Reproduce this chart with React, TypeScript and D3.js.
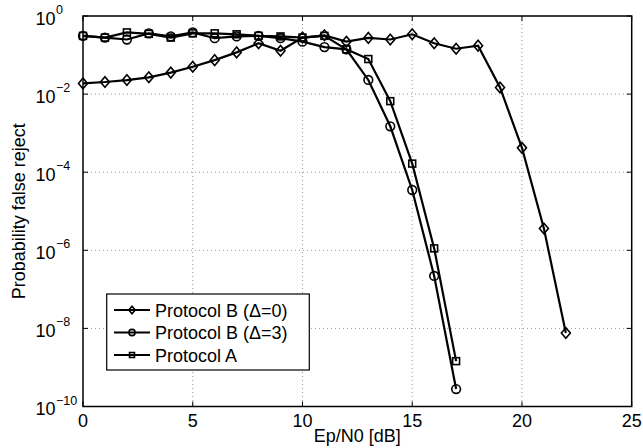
import React from "react";
import * as d3 from "d3";

const xValues = d3.range(0, 23);
const protocolB0 = [1.88e-2, 2.04e-2, 2.29e-2, 2.69e-2, 3.55e-2, 5.0e-2, 7.4e-2, 0.117, 0.2, 0.129, 0.28, 0.32, 0.22, 0.275, 0.25, 0.34, 0.2, 0.145, 0.174, 1.48e-2, 4.2e-4, 3.6e-6, 7.6e-9];
const protocolB3 = [0.31, 0.28, 0.25, 0.36, 0.3, 0.38, 0.27, 0.3, 0.31, 0.27, 0.22, 0.16, 0.14, 2.3e-2, 1.5e-3, 3.5e-5, 2.2e-7, 2.8e-10];
const protocolA = [0.31, 0.28, 0.38, 0.35, 0.28, 0.36, 0.36, 0.34, 0.31, 0.3, 0.28, 0.31, 0.14, 7.9e-2, 6.6e-3, 1.66e-4, 1.12e-6, 1.45e-9];
const xTicks = [0, 5, 10, 15, 20, 25];
const yTickExps = [0, -2, -4, -6, -8, -10];
const legendLabels = ["Protocol B (\u0394=0)", "Protocol B (\u0394=3)", "Protocol A"];

const W = 643, H = 448;
const L = 83, R = 631.7, T = 16, B = 406.5;
const FONT = "'Liberation Sans', Arial, Helvetica, sans-serif";
const FS = 18;

function Marker({ kind, x, y, s }: { kind: string; x: number; y: number; s: number }) {
  if (kind === "diamond") {
    return <path d={`M${x},${y - s}L${x + s * 0.85},${y}L${x},${y + s}L${x - s * 0.85},${y}Z`} fill="none" stroke="#000" strokeWidth={1.6} />;
  }
  if (kind === "circle") {
    return <circle cx={x} cy={y} r={s * 0.82} fill="none" stroke="#000" strokeWidth={1.6} />;
  }
  return <rect x={x - s * 0.65} y={y - s * 0.65} width={s * 1.3} height={s * 1.3} fill="none" stroke="#000" strokeWidth={1.6} />;
}

export default function App() {
  const x = d3.scaleLinear().domain([0, 25]).range([L, R]);
  const y = d3.scaleLog().domain([1e-10, 1]).range([B, T]);
  const line = d3.line<[number, number]>().x((d) => x(d[0])).y((d) => y(d[1]));
  const series = [
    { data: protocolB0, kind: "diamond" },
    { data: protocolB3, kind: "circle" },
    { data: protocolA, kind: "square" },
  ];
  return (
    <svg width={W} height={H} style={{ display: "block", position: "absolute", left: 0, top: 0 }} fontFamily={FONT}>
      <rect x={0} y={0} width={W} height={H} fill="#fff" />
      {xTicks.filter((t) => t > 0 && t < 25).map((t) => (
        <line key={"gx" + t} x1={x(t)} x2={x(t)} y1={T} y2={B} stroke="#999" strokeWidth={1} strokeDasharray="1,3" />
      ))}
      {yTickExps.filter((e) => e < 0 && e > -10).map((e) => (
        <line key={"gy" + e} x1={L} x2={R} y1={y(Math.pow(10, e))} y2={y(Math.pow(10, e))} stroke="#999" strokeWidth={1} strokeDasharray="1,3" />
      ))}
      {xTicks.map((t) => (
        <g key={"tx" + t}>
          <line x1={x(t)} x2={x(t)} y1={B} y2={B - 5} stroke="#000" />
          <line x1={x(t)} x2={x(t)} y1={T} y2={T + 5} stroke="#000" />
          <text x={x(t)} y={426.5} textAnchor="middle" fontSize={FS}>{t}</text>
        </g>
      ))}
      {yTickExps.map((e) => {
        const yy = y(Math.pow(10, e));
        return (
          <g key={"ty" + e}>
            <line x1={L} x2={L + 5} y1={yy} y2={yy} stroke="#000" />
            <line x1={R} x2={R - 5} y1={yy} y2={yy} stroke="#000" />
            <text x={55.5} y={yy + 8.5} textAnchor="end" fontSize={FS}>10</text>
            <text x={56} y={yy - 2} textAnchor="start" fontSize={12.5}>{e === 0 ? "0" : "\u2212" + Math.abs(e)}</text>
          </g>
        );
      })}
      {series.map((s, i) => {
        const pts: [number, number][] = s.data.map((v, j) => [xValues[j], v]);
        return (
          <g key={"s" + i}>
            <path d={line(pts) || ""} fill="none" stroke="#000" strokeWidth={2.2} />
            {pts.map((p, j) => (
              <Marker key={j} kind={s.kind} x={x(p[0])} y={y(p[1])} s={5.3} />
            ))}
          </g>
        );
      })}
      <rect x={L} y={T} width={R - L} height={B - T} fill="none" stroke="#000" strokeWidth={1.5} />
      <text x={(L + R) / 2} y={442} textAnchor="middle" fontSize={FS}>Ep/N0 [dB]</text>
      <text transform={`translate(25,${(T + B) / 2}) rotate(-90)`} textAnchor="middle" fontSize={FS}>Probability false reject</text>
      <rect x={106.7} y={294} width={202.6} height={76} fill="#fff" stroke="#000" strokeWidth={1.2} />
      {legendLabels.map((lab, i) => {
        const ly = 310 + i * 22.5;
        return (
          <g key={"lg" + i}>
            <line x1={114} x2={150} y1={ly} y2={ly} stroke="#000" strokeWidth={2.2} />
            <Marker kind={series[i].kind} x={132} y={ly} s={3.8} />
            <text x={155} y={ly + 6.5} fontSize={FS}>{lab}</text>
          </g>
        );
      })}
    </svg>
  );
}
